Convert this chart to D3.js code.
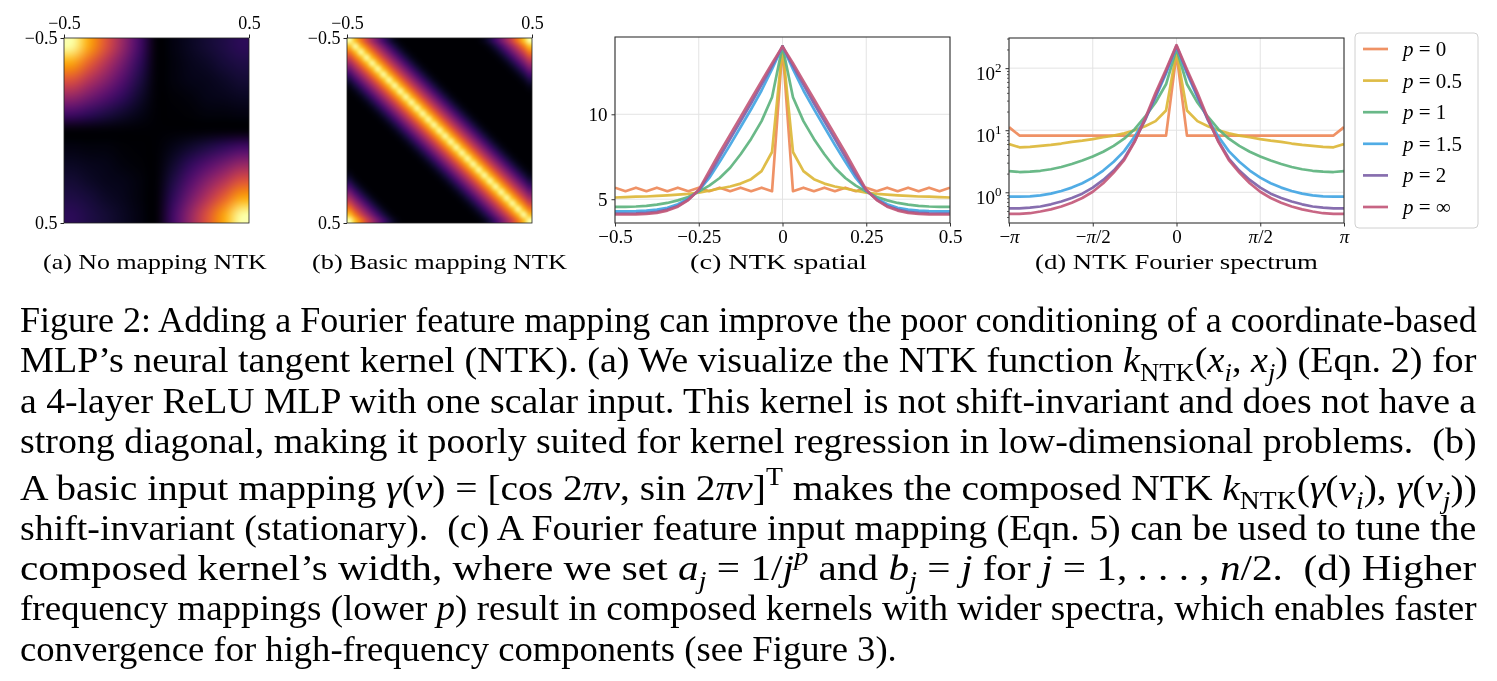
<!DOCTYPE html>
<html><head><meta charset="utf-8">
<script src="https://cdn.jsdelivr.net/npm/d3@7/dist/d3.min.js"></script>
<style>
body{margin:0;background:#fff;}
#cv{position:absolute;left:0;top:0;}
#fig{position:absolute;left:0;top:0;}
svg text{font-family:"Liberation Serif","Times New Roman",serif;fill:#000;}
</style></head><body>
<canvas id="cv" width="1497" height="681"></canvas>
<svg id="fig" width="1497" height="681"></svg>
<script>
// ---------------- DATA ----------------
const heatAxis = [-0.5, -0.4, -0.3, -0.2, -0.1, 0, 0.1, 0.2, 0.3, 0.4, 0.5];
// (a) NTK of plain MLP, normalized 0..1 (rows: y from -0.5 top to 0.5 bottom)
const noMapNTK = [
 [1.0, 0.8, 0.6, 0.4, 0.2, 0, 0.03, 0.06, 0.09, 0.12, 0.15],
 [0.8, 0.64, 0.48, 0.32, 0.16, 0, 0.02, 0.05, 0.07, 0.1, 0.12],
 [0.6, 0.48, 0.36, 0.24, 0.12, 0, 0.02, 0.04, 0.05, 0.07, 0.09],
 [0.4, 0.32, 0.24, 0.16, 0.08, 0, 0.01, 0.02, 0.04, 0.05, 0.06],
 [0.2, 0.16, 0.12, 0.08, 0.04, 0, 0, 0.01, 0.02, 0.02, 0.03],
 [0, 0, 0, 0, 0, 0, 0, 0, 0, 0, 0],
 [0.03, 0.02, 0.02, 0.01, 0, 0, 0.04, 0.08, 0.12, 0.16, 0.2],
 [0.06, 0.05, 0.04, 0.02, 0.01, 0, 0.08, 0.16, 0.24, 0.32, 0.4],
 [0.09, 0.07, 0.05, 0.04, 0.02, 0, 0.12, 0.24, 0.36, 0.48, 0.6],
 [0.12, 0.1, 0.07, 0.05, 0.02, 0, 0.16, 0.32, 0.48, 0.64, 0.8],
 [0.15, 0.12, 0.09, 0.06, 0.03, 0, 0.2, 0.4, 0.6, 0.8, 1.0]
];
// (b) stationary kernel profile vs |xi - xj| in steps of 1/32 (0 .. 0.5)
const basicProfile = [1.0, 0.85, 0.7, 0.56, 0.43, 0.31, 0.2, 0.11, 0.05, 0.015, 0, 0, 0, 0, 0, 0, 0];
const heatTickLabels = ["\u22120.5", "0.5"];

const pLabels = ["0", "0.5", "1", "1.5", "2", "\u221e"];
const seriesColors = ["#ee8959", "#dcb738", "#5db37e", "#42a5e3", "#7d62a8", "#c3597a"];

const spatialX = [-0.5,-0.46875,-0.4375,-0.40625,-0.375,-0.34375,-0.3125,-0.28125,-0.25,-0.21875,-0.1875,-0.15625,-0.125,-0.09375,-0.0625,-0.03125,0,0.03125,0.0625,0.09375,0.125,0.15625,0.1875,0.21875,0.25,0.28125,0.3125,0.34375,0.375,0.40625,0.4375,0.46875,0.5];
const spatialP0 = [5.68,5.47,5.68,5.47,5.68,5.47,5.68,5.47,5.68,5.47,5.68,5.47,5.68,5.47,5.68,5.47,14.0,5.47,5.68,5.47,5.68,5.47,5.68,5.47,5.68,5.47,5.68,5.47,5.68,5.47,5.68,5.47,5.68];
const spatialP05 = [5.1,5.12,5.15,5.16,5.2,5.23,5.27,5.31,5.39,5.5,5.63,5.75,5.92,6.18,6.65,7.78,14.0,7.78,6.65,6.18,5.92,5.75,5.63,5.5,5.39,5.31,5.27,5.23,5.2,5.16,5.15,5.12,5.1];
const spatialP1 = [4.55,4.55,4.57,4.61,4.68,4.78,4.93,5.13,5.45,5.8,6.25,6.85,7.65,8.55,9.6,11.0,14.0,11.0,9.6,8.55,7.65,6.85,6.25,5.8,5.45,5.13,4.93,4.78,4.68,4.61,4.57,4.55,4.55];
const spatialP15 = [4.29,4.29,4.3,4.33,4.39,4.5,4.7,5.03,5.5,6.25,7.2,8.2,9.25,10.3,11.4,12.65,14.0,12.65,11.4,10.3,9.25,8.2,7.2,6.25,5.5,5.03,4.7,4.5,4.39,4.33,4.3,4.29,4.29];
const spatialP2 = [4.16,4.16,4.17,4.2,4.26,4.39,4.6,4.98,5.53,6.45,7.5,8.55,9.6,10.65,11.75,12.85,14.0,12.85,11.75,10.65,9.6,8.55,7.5,6.45,5.53,4.98,4.6,4.39,4.26,4.2,4.17,4.16,4.16];
const spatialPinf = [4.1,4.1,4.11,4.14,4.2,4.33,4.56,4.95,5.55,6.65,7.75,8.8,9.85,10.9,11.95,13.0,14.0,13.0,11.95,10.9,9.85,8.8,7.75,6.65,5.55,4.95,4.56,4.33,4.2,4.14,4.11,4.1,4.1];
const spatialXTicks = [-0.5, -0.25, 0, 0.25, 0.5];
const spatialXTickLabels = ["\u22120.5", "\u22120.25", "0", "0.25", "0.5"];
const spatialYTicks = [5, 10];

// frequency index k: angle = k*pi/16
const freqIndex = [-16,-15,-14,-13,-12,-11,-10,-9,-8,-7,-6,-5,-4,-3,-2,-1,0,1,2,3,4,5,6,7,8,9,10,11,12,13,14,15,16];
const specP0 = [11.2,8.2,8.2,8.2,8.2,8.2,8.2,8.2,8.2,8.2,8.2,8.2,8.2,8.2,8.2,8.2,170,8.2,8.2,8.2,8.2,8.2,8.2,8.2,8.2,8.2,8.2,8.2,8.2,8.2,8.2,8.2,11.2];
const specP05 = [6.0,5.3,5.4,5.6,5.8,6.1,6.5,6.8,7.2,7.7,8.2,8.9,10.0,11.6,14.0,20.8,185,20.8,14.0,11.6,10.0,8.9,8.2,7.7,7.2,6.8,6.5,6.1,5.8,5.6,5.4,5.3,6.0];
const specP1 = [2.2,2.12,2.15,2.22,2.35,2.56,2.86,3.25,3.76,4.5,5.6,7.3,10.4,16.5,28,55,205,55,28,16.5,10.4,7.3,5.6,4.5,3.76,3.25,2.86,2.56,2.35,2.22,2.15,2.12,2.2];
const specP15 = [0.85,0.85,0.86,0.89,0.95,1.05,1.19,1.4,1.72,2.24,3.1,4.6,7.9,15.2,34,82,220,82,34,15.2,7.9,4.6,3.1,2.24,1.72,1.4,1.19,1.05,0.95,0.89,0.86,0.85,0.85];
const specP2 = [0.55,0.55,0.565,0.59,0.64,0.71,0.81,0.95,1.19,1.58,2.24,3.5,6.7,14.5,36,88,230,88,36,14.5,6.7,3.5,2.24,1.58,1.19,0.95,0.81,0.71,0.64,0.59,0.565,0.55,0.55];
const specPinf = [0.45,0.45,0.46,0.49,0.53,0.59,0.68,0.81,1.02,1.4,2.08,3.3,6.5,15.5,40,95,235,95,40,15.5,6.5,3.3,2.08,1.4,1.02,0.81,0.68,0.59,0.53,0.49,0.46,0.45,0.45];
const freqTicks = [-16, -8, 0, 8, 16];
const freqTickLabels = [["\u2212", "\u03c0", ""], ["\u2212", "\u03c0", "/2"], ["0", "", ""], ["", "\u03c0", "/2"], ["", "\u03c0", ""]];
const specYTicks = [1, 10, 100];
const specYExp = ["0", "1", "2"];

const subCaptions = ["(a) No mapping NTK", "(b) Basic mapping NTK", "(c) NTK spatial", "(d) NTK Fourier spectrum"];

const captionLines = [
 [["Figure 2: Adding a Fourier feature mapping can improve the poor conditioning of a coordinate-based"]],
 [["MLP\u2019s neural tangent kernel (NTK). (a) We visualize the NTK function "],["k","i"],["NTK","b"],["("],["x","i"],["i","ib"],[", "],["x","i"],["j","ib"],[") (Eqn. 2) for"]],
 [["a 4-layer ReLU MLP with one scalar input. This kernel is not shift-invariant and does not have a"]],
 [["strong diagonal, making it poorly suited for kernel regression in low-dimensional problems.  (b)"]],
 [["A basic input mapping "],["\u03b3","i"],["("],["v","i"],[") = [cos 2"],["\u03c0","i"],["v","i"],[", sin 2"],["\u03c0","i"],["v","i"],["]"],["T","u"],[" makes the composed NTK "],["k","i"],["NTK","b"],["("],["\u03b3","i"],["("],["v","i"],["i","ib"],["), "],["\u03b3","i"],["("],["v","i"],["j","ib"],["))"]],
 [["shift-invariant (stationary).  (c) A Fourier feature input mapping (Eqn. 5) can be used to tune the"]],
 [["composed kernel\u2019s width, where we set "],["a","i"],["j","ib"],[" = 1/"],["j","i"],["p","iu"],[" and "],["b","i"],["j","ib"],[" = "],["j","i"],[" for "],["j","i"],[" = 1, . . . , "],["n","i"],["/2.  (d) Higher"]],
 [["frequency mappings (lower "],["p","i"],[") result in composed kernels with wider spectra, which enables faster"]],
 [["convergence for high-frequency components (see Figure 3)."]]
];

// ---------------- DRAW ----------------
const svg = d3.select("#fig");
const ctx = document.getElementById("cv").getContext("2d");
const inferno = d3.scaleSequential(d3.interpolateInferno).domain([0, 1]);
const TICKFS = 19;

function richText(parent, segs, fs) {
  const t = parent.append("text").attr("font-size", fs).style("white-space", "pre");
  let shift = 0;
  segs.forEach(([s, st]) => {
    st = st || "";
    const sub = st.includes("b"), sup = st.includes("u");
    const target = sub ? fs * 0.25 : sup ? -fs * 0.42 : 0;
    const ts = t.append("tspan").text(s);
    if (target !== shift) { ts.attr("dy", target - shift); shift = target; }
    if (st.includes("i")) ts.attr("font-style", "italic");
    if (sub || sup) ts.attr("font-size", fs * 0.7);
  });
  return t;
}
function fitText(segs, fs, x0, width, baseline) {
  const g = svg.append("g");
  const t = richText(g, segs, fs);
  const w = t.node().getComputedTextLength();
  g.attr("transform", `translate(${x0},${baseline}) scale(${width / w},1)`);
}

// heatmaps
function heatPanel(grid, x0, y0, size) {
  const n = grid.length;
  const small = document.createElement("canvas");
  small.width = n; small.height = n;
  const sc = small.getContext("2d");
  grid.forEach((row, i) => row.forEach((v, j) => { sc.fillStyle = inferno(v); sc.fillRect(j, i, 1, 1); }));
  ctx.imageSmoothingEnabled = true;
  ctx.imageSmoothingQuality = "high";
  ctx.drawImage(small, x0, y0, size, size);
  const xs = d3.scaleLinear().domain([-0.5, 0.5]).range([x0, x0 + size]);
  const ys = d3.scaleLinear().domain([-0.5, 0.5]).range([y0, y0 + size]);
  svg.append("rect").attr("x", x0).attr("y", y0).attr("width", size).attr("height", size)
    .attr("fill", "none").attr("stroke", "#222").attr("stroke-width", 0.8);
  const top = svg.append("g").attr("transform", `translate(0,${y0})`)
    .call(d3.axisTop(xs).tickValues([-0.5, 0.5]).tickSize(3.5).tickPadding(6).tickFormat((d, i) => heatTickLabels[i]));
  const left = svg.append("g").attr("transform", `translate(${x0},0)`)
    .call(d3.axisLeft(ys).tickValues([-0.5, 0.5]).tickSize(3.5).tickPadding(3).tickFormat((d, i) => heatTickLabels[i]));
  [top, left].forEach(a => {
    a.attr("font-family", null).attr("font-size", null);
    a.select(".domain").remove();
    a.selectAll("line").attr("stroke", "#222");
    a.selectAll("text").attr("font-size", 18).attr("fill", "#000");
  });
}
heatPanel(noMapNTK, 64, 38, 185);
const basicN = 33;
const basicGrid = d3.range(basicN).map(i => d3.range(basicN).map(j => {
  let k = Math.abs(i - j) % 32; k = Math.min(k, 32 - k); return basicProfile[k];
}));
heatPanel(basicGrid, 347, 38, 185);

// line panels
function linePanel(xs, ys, xData, series, xTicks, yTicks) {
  const [x0, x1] = xs.range(), [y0, y1] = ys.range();
  const g = svg.append("g");
  g.selectAll(".gx").data(xTicks).join("line").attr("x1", d => xs(d)).attr("x2", d => xs(d))
    .attr("y1", y1).attr("y2", y0).attr("stroke", "#e3e3e3").attr("stroke-width", 1);
  g.selectAll(".gy").data(yTicks).join("line").attr("x1", x0).attr("x2", x1)
    .attr("y1", d => ys(d)).attr("y2", d => ys(d)).attr("stroke", "#e3e3e3").attr("stroke-width", 1);
  const clip = "clip" + Math.round(x0);
  svg.append("clipPath").attr("id", clip).append("rect").attr("x", x0).attr("y", y1).attr("width", x1 - x0).attr("height", y0 - y1);
  const line = d3.line().x((d, i) => xs(xData[i])).y(d => ys(d));
  const lg = svg.append("g").attr("clip-path", `url(#${clip})`);
  series.forEach((s, k) => {
    lg.append("path").attr("d", line(s)).attr("fill", "none").attr("stroke", seriesColors[k])
      .attr("stroke-width", 2.7).attr("stroke-linejoin", "round").attr("opacity", 0.92);
  });
  svg.append("rect").attr("x", x0).attr("y", y1).attr("width", x1 - x0).attr("height", y0 - y1)
    .attr("fill", "none").attr("stroke", "#333").attr("stroke-width", 1.1);
}
function styleAxis(a) {
  a.attr("font-family", null).attr("font-size", null);
  a.select(".domain").remove();
  a.selectAll("line").attr("stroke", "#333");
  a.selectAll("text").attr("font-size", TICKFS).attr("fill", "#000");
}

// (c) spatial
const cX = d3.scaleLinear().domain([-0.5, 0.5]).range([615, 950]);
const cY = d3.scaleLinear().domain([3.6, 14.55]).range([223, 37]);
linePanel(cX, cY, spatialX, [spatialP0, spatialP05, spatialP1, spatialP15, spatialP2, spatialPinf], spatialXTicks, spatialYTicks);
styleAxis(svg.append("g").attr("transform", "translate(0,223)")
  .call(d3.axisBottom(cX).tickValues(spatialXTicks).tickSize(3.5).tickPadding(3).tickFormat((d, i) => spatialXTickLabels[i])));
styleAxis(svg.append("g").attr("transform", "translate(615,0)")
  .call(d3.axisLeft(cY).tickValues(spatialYTicks).tickSize(3.5).tickPadding(4).tickFormat(d3.format("d"))));

// (d) spectrum
const dX = d3.scaleLinear().domain([-16, 16]).range([1009, 1344]);
const dY = d3.scaleLog().domain([0.32, 306]).range([223, 38]);
linePanel(dX, dY, freqIndex, [specP0, specP05, specP1, specP15, specP2, specPinf], freqTicks, specYTicks);
const dxa = svg.append("g").attr("transform", "translate(0,223)")
  .call(d3.axisBottom(dX).tickValues(freqTicks).tickSize(3.5).tickPadding(3).tickFormat(""));
styleAxis(dxa);
dxa.selectAll(".tick text").each(function (d, i) {
  const t = d3.select(this); const [a, b, c] = freqTickLabels[i];
  t.text(null);
  if (a) t.append("tspan").text(a);
  if (b) t.append("tspan").attr("font-style", "italic").text(b);
  if (c) t.append("tspan").text(c);
});
const minorTicks = [0.4,0.5,0.6,0.7,0.8,0.9,2,3,4,5,6,7,8,9,20,30,40,50,60,70,80,90,200,300];
svg.append("g").attr("transform", "translate(1009,0)")
  .call(d3.axisLeft(dY).tickValues(minorTicks).tickSize(2).tickFormat(""))
  .call(a => { a.select(".domain").remove(); a.selectAll("line").attr("stroke", "#333").attr("stroke-width", 0.8); });
const dya = svg.append("g").attr("transform", "translate(1009,0)")
  .call(d3.axisLeft(dY).tickValues(specYTicks).tickSize(3.5).tickPadding(4).tickFormat(""));
styleAxis(dya);
dya.selectAll(".tick text").each(function (d, i) {
  const t = d3.select(this); t.text("10");
  t.append("tspan").attr("dy", -8).attr("font-size", 13).text(specYExp[i]);
}).attr("dy", "0.6em");

// legend
const leg = svg.append("g");
leg.append("rect").attr("x", 1355).attr("y", 33).attr("width", 123).attr("height", 195).attr("rx", 4)
  .attr("fill", "#fff").attr("stroke", "#d0d0d0").attr("stroke-width", 1);
const legY = d3.scalePoint().domain(pLabels).range([49, 207]);
pLabels.forEach((p, k) => {
  const y = legY(p);
  leg.append("line").attr("x1", 1363).attr("x2", 1388).attr("y1", y).attr("y2", y)
    .attr("stroke", seriesColors[k]).attr("stroke-width", 2.7).attr("opacity", 0.92);
  const t = leg.append("text").attr("x", 1403).attr("y", y + 7).attr("font-size", 21).style("white-space", "pre");
  t.append("tspan").attr("font-style", "italic").text("p");
  t.append("tspan").text(" = " + p);
});

// sub-captions
const subPos = [[43, 224], [312, 255], [690, 177], [1035, 283]];
subCaptions.forEach((s, i) => fitText([[s]], 21, subPos[i][0], subPos[i][1], 269));

// main caption
const capBase = [332, 372, 413, 453, 500, 540, 580, 620, 661];
captionLines.forEach((segs, i) => {
  const w = i === captionLines.length - 1 ? 877 : 1457;
  fitText(segs, 35, 20, w, capBase[i]);
});
</script>
</body></html>
